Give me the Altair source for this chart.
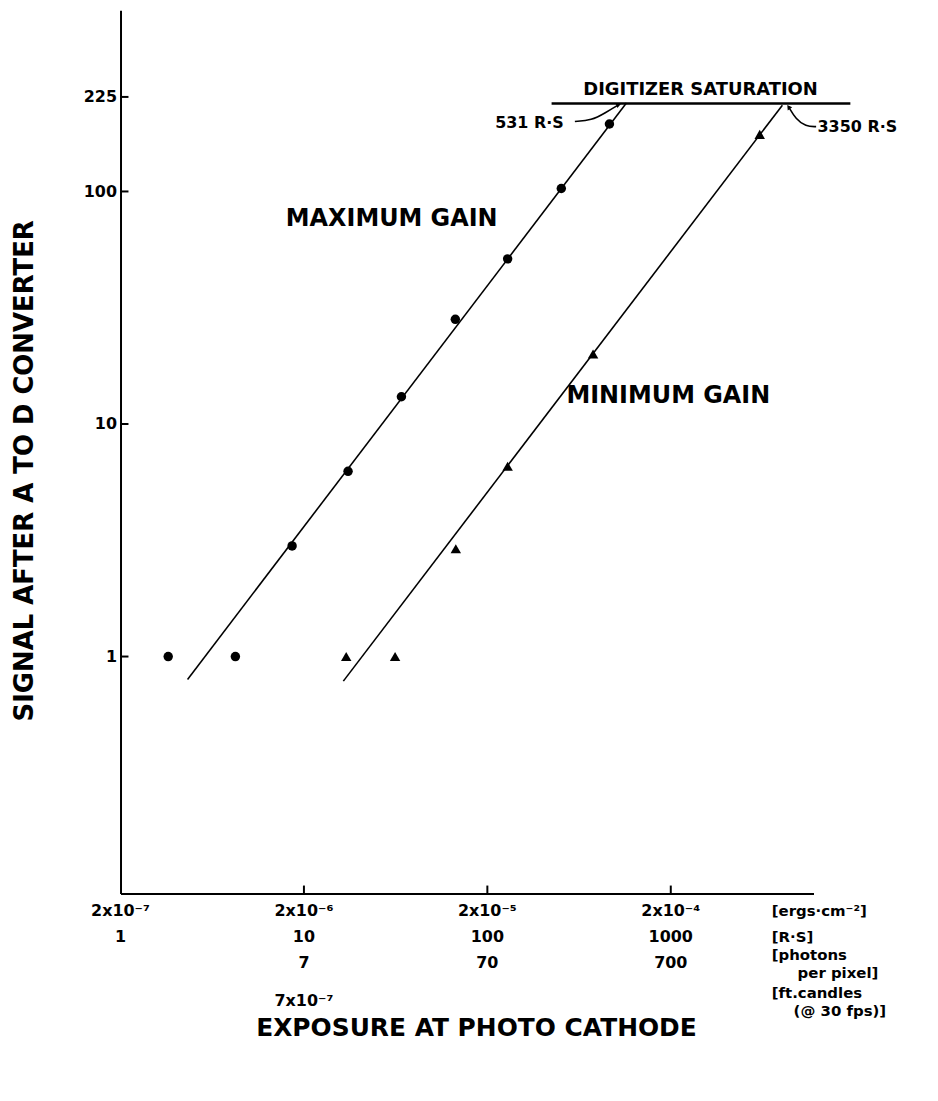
import altair as alt
import pandas as pd

# ---- data (x in R.S units, y = signal) ----
max_rs = [1.82, 4.23, 8.62, 17.4, 34.0, 66.9, 129, 253, 463]
max_sig = [1.0, 1.0, 2.99, 6.26, 13.1, 28.2, 51.3, 103, 195]
min_rs = [17.0, 31.4, 67.3, 129, 377, 3055]
min_sig = [1.0, 1.0, 2.91, 6.58, 20.0, 176]

max_fit_rs = [2.32, 573]
max_fit_sig = [0.797, 240]
min_fit_rs = [16.4, 4060]
min_fit_sig = [0.784, 235]

sat_rs = [224, 9530]
sat_level = [239, 239]

x_ticks = [1, 10, 100, 1000]
ergs_labels = ["2x10⁻⁷", "2x10⁻⁶", "2x10⁻⁵", "2x10⁻⁴"]
rs_labels = ["1", "10", "100", "1000"]
photon_labels = ["", "7", "70", "700"]
ftc_labels = ["", "7x10⁻⁷", "", ""]
unit_labels = ["[ergs·cm⁻²]", "[R·S]", "[photons", "per pixel]",
               "[ft.candles", "(@ 30 fps)]"]

y_ticks = [1, 10, 100, 255]
y_tick_labels = ["1", "10", "100", "225"]

# annotation texts (anchored in data units)
ann_text = ["MAXIMUM GAIN", "MINIMUM GAIN"]
ann_rs = [7.97, 270]
ann_sig = [75.9, 13.2]

sat_text = ["DIGITIZER SATURATION"]
sat_text_rs = [1453]
sat_text_sig = [273]

lead531_rs = [300, 370, 440, 520]
lead531_sig = [200, 202, 218, 236]
lead3350_rs = [6200, 5450, 4800, 4390]
lead3350_sig = [190, 190, 205, 231]
rs_note_text = ["531 R·S", "3350 R·S"]
rs_note_rs = [261, 6310]
rs_note_sig = [197, 190]
rs_note_align = ["right", "left"]

FONT = "DejaVu Sans"
W, H = 696, 887

xs = alt.Scale(type="log", domain=[1, 6000], nice=False)
ys = alt.Scale(type="log", domain=[0.0957, 601], nice=False)

label_expr = "".join(
    f"datum.value == {v} ? '{l}' : " for v, l in zip(y_ticks, y_tick_labels)
) + "''"

x_axis = alt.Axis(labels=False, ticks=False, grid=False, domainColor="black",
                  domainWidth=2, title="EXPOSURE AT PHOTO CATHODE",
                  titleFont=FONT, titleFontSize=25, titleFontWeight="bold",
                  titleColor="black", titleX=357, titleY=135,
                  titleAlign="center", titleBaseline="middle")
y_axis = alt.Axis(values=y_ticks, labelExpr=label_expr, ticks=False, tickSize=0,
                  grid=False, domainColor="black", domainWidth=2,
                  labelFont=FONT, labelFontSize=16, labelFontWeight="bold",
                  labelColor="black", labelPadding=4,
                  title="SIGNAL AFTER A TO D CONVERTER", titleFont=FONT,
                  titleFontSize=26, titleFontWeight="bold", titleColor="black",
                  titleAngle=270, titleX=-96, titleY=462,
                  titleAlign="center", titleBaseline="middle")


def X(f):
    return alt.X(f, type="quantitative", scale=xs, axis=x_axis)


def Y(f):
    return alt.Y(f, type="quantitative", scale=ys, axis=y_axis)


df_max = pd.DataFrame({"rs": max_rs, "sig": max_sig})
df_min = pd.DataFrame({"rs": min_rs, "sig": min_sig})

circles = alt.Chart(df_max).mark_point(
    shape="circle", filled=True, size=90, color="black", opacity=1
).encode(x=X("rs"), y=Y("sig"))

triangles = alt.Chart(df_min).mark_point(
    shape="triangle-up", filled=True, size=110, color="black", opacity=1
).encode(x=X("rs"), y=Y("sig"))

fit_max = alt.Chart(pd.DataFrame({"rs": max_fit_rs, "sig": max_fit_sig})).mark_line(
    color="black", strokeWidth=1.6).encode(x=X("rs"), y=Y("sig"))
fit_min = alt.Chart(pd.DataFrame({"rs": min_fit_rs, "sig": min_fit_sig})).mark_line(
    color="black", strokeWidth=1.6).encode(x=X("rs"), y=Y("sig"))
sat_line = alt.Chart(pd.DataFrame({"rs": sat_rs, "sig": sat_level})).mark_line(
    color="black", strokeWidth=2.5).encode(x=X("rs"), y=Y("sig"))

lead1 = alt.Chart(pd.DataFrame({"rs": lead531_rs, "sig": lead531_sig, "o": range(4)})).mark_line(
    color="black", strokeWidth=1.6, interpolate="basis").encode(
    x=X("rs"), y=Y("sig"), order="o:Q")
lead2 = alt.Chart(pd.DataFrame({"rs": lead3350_rs, "sig": lead3350_sig, "o": range(4)})).mark_line(
    color="black", strokeWidth=1.6, interpolate="basis").encode(
    x=X("rs"), y=Y("sig"), order="o:Q")
heads = alt.Chart(pd.DataFrame({"rs": [lead531_rs[-1], lead3350_rs[-1]],
                                "sig": [lead531_sig[-1], lead3350_sig[-1]],
                                "ang": [70, 325]})).mark_point(
    shape="triangle-up", filled=True, size=30, color="black", opacity=1).encode(
    x=X("rs"), y=Y("sig"), angle=alt.Angle("ang:Q", scale=None))

ann = alt.Chart(pd.DataFrame({"rs": ann_rs, "sig": ann_sig, "t": ann_text})).mark_text(
    font=FONT, fontSize=24, fontWeight="bold", align="left", baseline="middle",
    color="black").encode(x=X("rs"), y=Y("sig"), text="t:N")
sat_ann = alt.Chart(pd.DataFrame({"rs": sat_text_rs, "sig": sat_text_sig, "t": sat_text})).mark_text(
    font=FONT, fontSize=18, fontWeight="bold", align="center", baseline="middle",
    color="black").encode(x=X("rs"), y=Y("sig"), text="t:N")
notes = [
    alt.Chart(pd.DataFrame({"rs": [r], "sig": [s], "t": [t]})).mark_text(
        font=FONT, fontSize=16, fontWeight="bold", align=a, baseline="middle",
        color="black").encode(x=X("rs"), y=Y("sig"), text="t:N")
    for r, s, t, a in zip(rs_note_rs, rs_note_sig, rs_note_text, rs_note_align)
]

# inward ticks
yt = alt.Chart(pd.DataFrame({"v": y_ticks})).mark_rule(color="black", strokeWidth=2).encode(
    y=Y("v"), x=alt.value(0), x2=alt.value(8))
xt = alt.Chart(pd.DataFrame({"v": x_ticks[1:]})).mark_rule(color="black", strokeWidth=2).encode(
    x=X("v"), y=alt.value(H), y2=alt.value(H - 8))

# rows of x labels
df_lab = pd.DataFrame({"rs": x_ticks, "ergs": ergs_labels, "rsl": rs_labels,
                       "ph": photon_labels, "ftc": ftc_labels})
rows = []
for col, ypix in [("ergs", 905), ("rsl", 931), ("ph", 957), ("ftc", 995)]:
    rows.append(alt.Chart(df_lab).mark_text(
        font=FONT, fontSize=16, fontWeight="bold", align="center", baseline="middle",
        color="black").encode(x=X("rs"), y=alt.value(ypix), text=f"{col}:N"))

unit_y = [905, 931, 949, 967, 987, 1005]
unit_x = [654, 654, 654, 680, 654, 676]
units = alt.Chart(pd.DataFrame({"t": unit_labels, "yy": unit_y, "xx": unit_x})).mark_text(
    font=FONT, fontSize=15, fontWeight="bold", align="left", baseline="middle",
    color="black").encode(x=alt.X("xx:Q", scale=None), y=alt.Y("yy:Q", scale=None), text="t:N")

chart = alt.layer(
    circles, triangles, fit_max, fit_min, sat_line, lead1, lead2, heads,
    ann, sat_ann, *notes, yt, xt, *rows, units
).properties(
    width=W, height=H,
    padding={"left": 113, "top": 0, "right": 117, "bottom": 200},
    autosize=alt.AutoSizeParams(type="none"),
    background="white",
).configure_view(stroke=None)

chart.save("out.html", embed_options={"renderer": "svg", "actions": False})
